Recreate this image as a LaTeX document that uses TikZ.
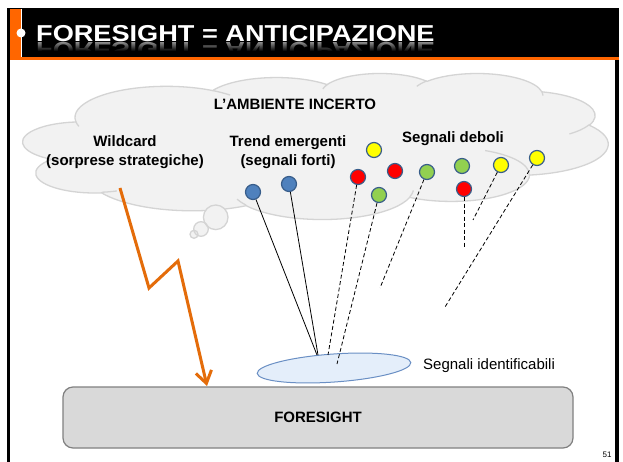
\documentclass[tikz,border=0pt]{standalone}
\usepackage{fontspec}
\setmainfont{Liberation Sans}
\usetikzlibrary{arrows.meta,shapes.geometric,fadings}
\definecolor{cloudfill}{HTML}{F2F2F2}
\definecolor{cloudline}{HTML}{D4D4D4}
\definecolor{sigblue}{HTML}{4F81BD}
\definecolor{sigedge}{HTML}{385D8A}
\definecolor{sigred}{HTML}{FF0000}
\definecolor{sigyellow}{HTML}{FFFF00}
\definecolor{siggreen}{HTML}{92D050}
\definecolor{titleorange}{HTML}{FF6600}
\definecolor{boltorange}{HTML}{E46C0A}
\definecolor{ellfill}{HTML}{E4EEFA}
\definecolor{elledge}{HTML}{6A8FC4}
\definecolor{boxfill}{HTML}{D9D9D9}
\definecolor{boxedge}{HTML}{808080}
% OOXML-style arcTo: wR, hR, start angle, sweep (degrees, visual angles)
\newcommand\ooarc[4]{\pgfextra{%
  \pgfmathsetmacro\ooa{atan2((#1)*sin(#3),(#2)*cos(#3))}%
  \pgfmathsetmacro\ooe{(#3)+(#4)}%
  \pgfmathsetmacro\oob{atan2((#1)*sin(\ooe),(#2)*cos(\ooe))}%
  \pgfmathsetmacro\ood{\oob-\ooa-(#4)}%
  \pgfmathsetmacro\oob{\ooa+(#4)+\ood-360*round(\ood/360)}%
  \global\let\ooa\ooa\global\let\oob\oob}%
  arc[x radius=#1, y radius=#2, start angle=\ooa, end angle=\oob]}
\begin{document}
\begin{tikzpicture}[x=1pt,y=-1pt,
  sig/.style={circle, draw=sigedge, line width=1.2pt, minimum size=15pt, inner sep=0pt},
  lbl/.style={font=\fontsize{15}{19.5}\selectfont\bfseries, align=center, inner sep=0pt},
  strong/.style={line width=0.8pt},
  weak/.style={line width=0.8pt, dash pattern=on 4pt off 2.5pt},
  cloudstyle/.style={draw=cloudline, line width=1.3pt},
  titlefont/.style={font=\fontsize{23}{23}\selectfont\bfseries, inner sep=0pt, anchor=base west}
]
\useasboundingbox (0,0) rectangle (623,462);
\fill[white] (0,0) rectangle (623,462);
% frame and title bar
\fill[black] (7,8) rectangle (619,462);
\fill[white] (10,60) rectangle (615,462);
\fill[titleorange] (10,9) rectangle (21,57);
\fill[titleorange] (10,57) rectangle (619,60);
\draw[white, line width=0.7pt] (21,9) -- (21,57);
\fill[white] (21,33) circle[radius=4.5];
\node[titlefont, text=white] (title) at (36,41.5) {\scalebox{1.18}[1]{FORESIGHT = ANTICIPAZIONE}};
\begin{scope}
  \clip (30,42) rectangle (450,51);
  \node[titlefont, text=white!55!black] (titlerefl) at (36,42.5) {\scalebox{1.18}[-1]{FORESIGHT = ANTICIPAZIONE}};
  \fill[black, path fading=north] (30,42) rectangle (450,51);
\end{scope}
% cloud
\begin{scope}[shift={(23,73)}, x=1.3542pt, y=-0.33796pt]
\filldraw[cloudstyle, fill=cloudfill] (39,143.7)
  \ooarc{67.53}{91.90}{-190.4875}{123.7805}
  \ooarc{53.33}{72.67}{-144.1024}{89.9452}
  \ooarc{43.65}{59.45}{-145.8079}{99.7230}
  \ooarc{48.57}{65.95}{-130.9861}{117.2417}
  \ooarc{53.33}{72.73}{-78.7089}{109.0269}
  \ooarc{67.75}{92.20}{-46.2673}{130.2690}
  \ooarc{57.85}{78.67}{0.6250}{114.0333}
  \ooarc{67.52}{92.15}{22.4516}{115.1726}
  \ooarc{77.20}{105.43}{66.2426}{75.7110}
  \ooarc{43.60}{59.18}{-274.9421}{146.7356}
  \ooarc{43.45}{59.45}{-246.8285}{152.5189}
  -- cycle;
\draw[cloudstyle] (46.93,261.77) \ooarc{43.45}{59.45}{86.742}{26.4295};
\draw[cloudstyle] (69.28,348.99) \ooarc{43.60}{59.18}{73.6105}{11.4475};
\draw[cloudstyle] (164.78,390.90) \ooarc{67.52}{92.15}{137.6242}{14.0811};
\draw[cloudstyle] (288.27,347.51) \ooarc{67.52}{92.15}{6.4533}{15.9984};
\draw[cloudstyle] (341.29,229.54) \ooarc{57.85}{78.67}{-70.2924}{70.9174};
\draw[cloudstyle] (417.98,153.54) \ooarc{53.33}{72.73}{30.3180}{27.7515};
\draw[cloudstyle] (383.24,54.26) \ooarc{48.57}{65.95}{-13.7443}{14.8589};
\draw[cloudstyle] (290.78,39.52) \ooarc{48.57}{65.95}{-149.1815}{18.1954};
\draw[cloudstyle] (221.41,47.20) \ooarc{43.65}{59.45}{-163.4943}{17.6864};
\draw[cloudstyle] (140.00,51.92) \ooarc{67.53}{91.90}{-66.7070}{12.3194};
\draw[cloudstyle] (41.27,157.89) \ooarc{67.53}{91.90}{157.6544}{11.8582};
\end{scope}
% thought bubbles
\fill[cloudfill] (215.7,217.3) circle[radius=12.3];
\fill[cloudfill] (201,229) circle[radius=7.3];
\fill[cloudfill] (194,234.3) circle[radius=4];
\draw[cloudstyle] (215.7,217.3) circle[radius=12.3];
\draw[cloudstyle] (201,229) circle[radius=7.3];
\draw[cloudstyle] (194,234.3) circle[radius=4];
% labels
\node[lbl] (amb) at (295,104) {L’AMBIENTE INCERTO};
\node[lbl] (wild) at (125,152) {Wildcard\\(sorprese strategiche)};
\node[lbl] (trend) at (288,152) {Trend emergenti\\(segnali forti)};
\node[lbl] (deb) at (453,139) {Segnali deboli};
% lightning (wildcard)
\coordinate (bolt0) at (120,188);
\coordinate (bolt1) at (149,288);
\coordinate (bolt2) at (178,261);
\coordinate (bolt3) at (207,386);
% identifiable signals ellipse
\node[ellipse, draw=elledge, fill=ellfill, line width=1pt, minimum width=154pt, minimum height=28pt, inner sep=0pt, rotate=4] (ell) at (334,368) {};
\node[font=\fontsize{15}{18}\selectfont, anchor=west, inner sep=0pt] (sid) at (423,366) {Segnali identificabili};
% foresight box
\node[lbl, draw=boxedge, fill=boxfill, line width=1.2pt, rounded corners=10pt, minimum width=510pt, minimum height=61pt] (fs) at (318,417.5) {FORESIGHT};
\draw[boltorange, line width=3pt, line join=miter, -{Straight Barb[length=12pt, width=16pt]}] (bolt0) -- (bolt1) -- (bolt2) -- (bolt3);
% signals
\node[sig, fill=sigblue] (b1) at (253,192) {};
\node[sig, fill=sigblue] (b2) at (289,184) {};
\node[sig, fill=sigyellow] (y1) at (374,150) {};
\node[sig, fill=sigred] (r1) at (358,177) {};
\node[sig, fill=sigred] (r2) at (395,171) {};
\node[sig, fill=siggreen] (g1) at (379,195) {};
\node[sig, fill=siggreen] (g2) at (427,172) {};
\node[sig, fill=siggreen] (g3) at (462,166) {};
\node[sig, fill=sigred] (r3) at (464,189) {};
\node[sig, fill=sigyellow] (y2) at (501,165) {};
\node[sig, fill=sigyellow] (y3) at (537,158) {};
% connector ends
\coordinate (eb1) at (317,355);
\coordinate (eb2) at (318,355);
\coordinate (er1) at (328,355);
\coordinate (eg1) at (337,364);
\coordinate (eg2) at (380,288);
\coordinate (er3) at (464,247);
\coordinate (ey2) at (473,220);
\coordinate (ey3) at (445,307);
\draw[strong] (b1) -- (eb1);
\draw[strong] (b2) -- (eb2);
\draw[weak] (r1) -- (er1);
\draw[weak] (g1) -- (eg1);
\draw[weak] (g2) -- (eg2);
\draw[weak] (r3) -- (er3);
\draw[weak] (y2) -- (ey2);
\draw[weak] (y3) -- (ey3);
\node[font=\fontsize{8}{8}\selectfont, inner sep=0pt] (pg) at (607,455) {51};
\end{tikzpicture}
\end{document}
